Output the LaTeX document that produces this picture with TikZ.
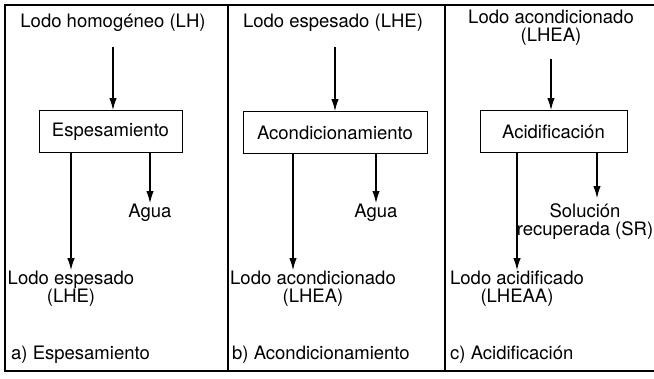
\documentclass[tikz,border=0pt]{standalone}
\usepackage{fontspec}
\setmainfont{TeX Gyre Heros}
\usetikzlibrary{arrows.meta}
\tikzset{>={Latex[length=12pt,width=7.5pt]}}
\tikzset{
  proceso/.style={draw, line width=1pt, minimum height=42pt, inner sep=0pt},
  texto/.style={align=center, inner sep=1pt},
  flujo/.style={->, line width=1.2pt},
  etiqueta/.style={anchor=west, inner sep=1pt},
}

\begin{document}
\begin{tikzpicture}[x=1pt,y=-1pt,font=\fontsize{18.5}{18}\selectfont]
\useasboundingbox (0,0) rectangle (654,378);

% Marco
\draw[line width=1.4pt] (654,5) -- (5,5) -- (5,371) -- (654,371);
\draw[line width=1.4pt] (228,5) -- (228,371);
\draw[line width=1.4pt] (445,5) -- (445,371);

% a) Espesamiento
\node[texto] (lh) at (113,23) {Lodo homogéneo (LH)};
\node[proceso, minimum width=143pt] (esp) at (110.5,131.5) {Espesamiento};
\node[texto] (aguaA) at (150,213) {Agua};
\node[texto] (lhe) at (71,289) {Lodo espesado\\(LHE)};
\node[etiqueta] (etA) at (10,355) {a) Espesamiento};

\draw[flujo, shorten <=14pt] (lh.south) -- (lh.south |- esp.north);
\draw[flujo] (esp.south -| aguaA.north) -- (aguaA.north);
\draw[flujo] (esp.south -| lhe.north) -- (lhe.north);

% b) Acondicionamiento
\node[texto] (lheB) at (333,23) {Lodo espesado (LHE)};
\node[proceso, minimum width=184pt] (acond) at (335,132.5) {Acondicionamiento};
\node[texto] (aguaB) at (376,213) {Agua};
\node[texto] (lhea) at (313,289) {Lodo acondicionado\\(LHEA)};
\node[etiqueta] (etB) at (231,355) {b) Acondicionamiento};
\coordinate (pB) at (293,270);

\draw[flujo, shorten <=14pt] (lheB.south -| acond.north) -- (acond.north);
\draw[flujo] (acond.south -| aguaB.north) -- (aguaB.north);
\draw[flujo] (acond.south -| pB) -- (pB);

% c) Acidificacion
\node[texto] (lheaC) at (551,28) {Lodo acondicionado\\(LHEA)};
\node[proceso, minimum width=147pt] (acid) at (553.5,131.5) {Acidificación};
\node[texto] (sr) at (585,222) {Solución\\recuperada (SR)};
\node[texto] (lheaa) at (517,289) {Lodo acidificado\\(LHEAA)};
\node[etiqueta] (etC) at (449,355) {c) Acidificación};
\coordinate (pC) at (597,198);

\draw[flujo, shorten <=12pt] (lheaC.south) -- (lheaC.south |- acid.north);
\draw[flujo] (acid.south -| pC) -- (pC);
\draw[flujo] (acid.south -| lheaa.north) -- (lheaa.north);

\end{tikzpicture}
\end{document}
